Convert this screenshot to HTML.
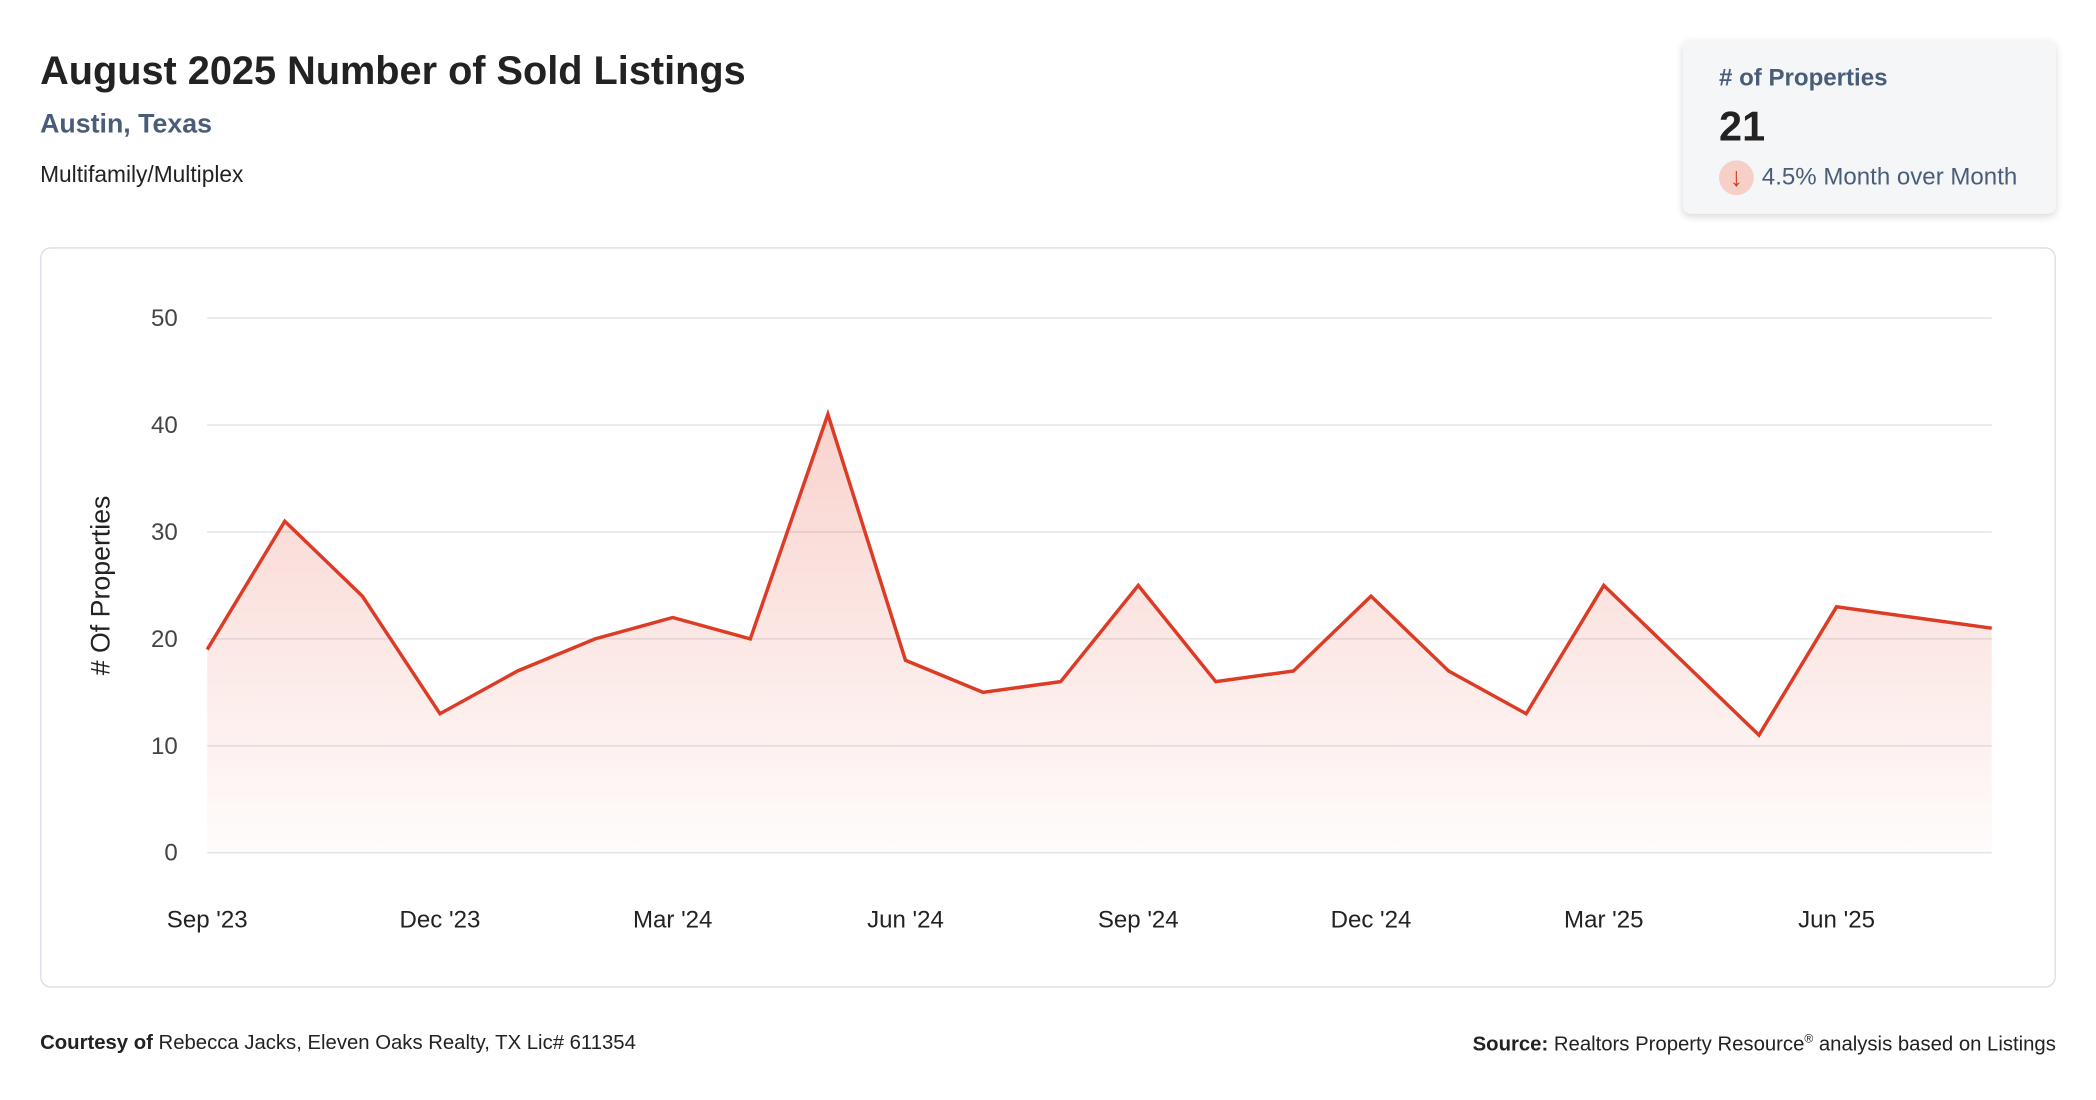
<!DOCTYPE html>
<html><head><meta charset="utf-8"><style>
html,body{margin:0;padding:0;background:#fff;width:2096px;height:1100px;overflow:hidden;font-family:"Liberation Sans",sans-serif;}
#root{position:absolute;left:0;top:0;width:1568px;height:823px;transform:scale(1.33673,1.33658);transform-origin:0 0;}
.abs{position:absolute;white-space:nowrap;}
</style></head><body>
<div id="root">
<div class="abs" style="left:30px;top:37px;font-size:29.7px;font-weight:bold;color:#222;">August 2025 Number of Sold Listings</div>
<div class="abs" style="left:30px;top:82px;font-size:20px;font-weight:bold;color:#4a5d78;">Austin, Texas</div>
<div class="abs" style="left:30px;top:121px;font-size:17px;color:#222;">Multifamily/Multiplex</div>
<div class="abs" style="left:1259px;top:30px;width:279px;height:130px;background:#f5f6f8;border-radius:6px;box-shadow:0 2px 6px rgba(0,0,0,0.15);">
 <div class="abs" style="left:27px;top:18px;font-size:18px;font-weight:bold;color:#4a5d78;"># of Properties</div>
 <div class="abs" style="left:27px;top:47px;font-size:31px;font-weight:bold;color:#222;">21</div>
 <div class="abs" style="left:27px;top:90px;width:26px;height:26px;border-radius:13px;background:#f6cfc7;color:#d9381e;font-size:20px;text-align:center;line-height:26px;">↓</div>
 <div class="abs" style="left:59px;top:92px;font-size:18px;color:#4a5d78;">4.5% Month over Month</div>
</div>
<div class="abs" style="left:30px;top:185px;width:1506px;height:552px;border:1px solid #d8dee8;border-radius:8px;"></div>
<svg class="abs" style="left:0;top:0" width="1568" height="823">
<defs><linearGradient id="g" x1="0" y1="0" x2="0" y2="1"><stop offset="0" stop-color="#e8604c" stop-opacity="0.28"/><stop offset="1" stop-color="#e8604c" stop-opacity="0.02"/></linearGradient></defs>
<g id="grid"></g><path id="area" fill="url(#g)"/><path id="line" fill="none" stroke="#dc3c26" stroke-width="2.6" stroke-linejoin="miter"/><g id="xl"></g>
<text transform="translate(82,438) rotate(-90)" text-anchor="middle" font-size="20" fill="#222" font-family="Liberation Sans, sans-serif"># Of Properties</text>
</svg>
<div class="abs" style="left:30px;top:772px;font-size:15.2px;color:#222;"><b>Courtesy of</b> Rebecca Jacks, Eleven Oaks Realty, TX Lic# 611354</div>
<div class="abs" style="right:30px;top:772px;font-size:15.2px;color:#222;"><b>Source:</b> Realtors Property Resource<sup style="font-size:9px">®</sup> analysis based on Listings</div>
</div>
<script>
const values=[19,31,24,13,17,20,22,20,41,18,15,16,25,16,17,24,17,13,25,18,11,23,22,21];
const yTicks=[0,10,20,30,40,50];
const xLabels=["Sep '23","Dec '23","Mar '24","Jun '24","Sep '24","Dec '24","Mar '25","Jun '25"];
const xLabelIdx=[0,3,6,9,12,15,18,21];
const ns="http://www.w3.org/2000/svg";
const x0=155,x1=1490,y0=638,y1=238,ymax=50;
const xs=i=>x0+(x1-x0)*i/(values.length-1);
const ys=v=>y0-(y0-y1)*v/ymax;
const grid=document.getElementById('grid');
yTicks.forEach(t=>{
 const l=document.createElementNS(ns,'line');
 
 
 l.setAttribute('x1',x0);l.setAttribute('x2',x1);l.setAttribute('y1',ys(t));l.setAttribute('y2',ys(t));
 l.setAttribute('stroke','#e3e6ea');l.setAttribute('stroke-width','1.2');grid.appendChild(l);
 const tx=document.createElementNS(ns,'text');
 
 
 tx.setAttribute('x',133);tx.setAttribute('y',ys(t)+6);tx.setAttribute('text-anchor','end');
 tx.setAttribute('font-size','18');tx.setAttribute('fill','#444');tx.setAttribute('font-family','Liberation Sans, sans-serif');
 tx.textContent=t;grid.appendChild(tx);
});
let d=values.map((v,i)=>(i?'L':'M')+xs(i)+','+ys(v)).join(' ');
document.getElementById('line').setAttribute('d',d);
document.getElementById('line');
document.getElementById('line');
document.getElementById('area').setAttribute('d',d+' L'+xs(values.length-1)+','+y0+' L'+x0+','+y0+' Z');
document.getElementById('area');
document.getElementById('area');
const xl=document.getElementById('xl');
xLabels.forEach((s,k)=>{
 const tx=document.createElementNS(ns,'text');
 
 
 tx.setAttribute('x',xs(xLabelIdx[k]));tx.setAttribute('y',694);tx.setAttribute('text-anchor','middle');
 tx.setAttribute('font-size','18');tx.setAttribute('fill','#222');tx.setAttribute('font-family','Liberation Sans, sans-serif');
 tx.textContent=s;xl.appendChild(tx);
});
</script>
</body></html>
